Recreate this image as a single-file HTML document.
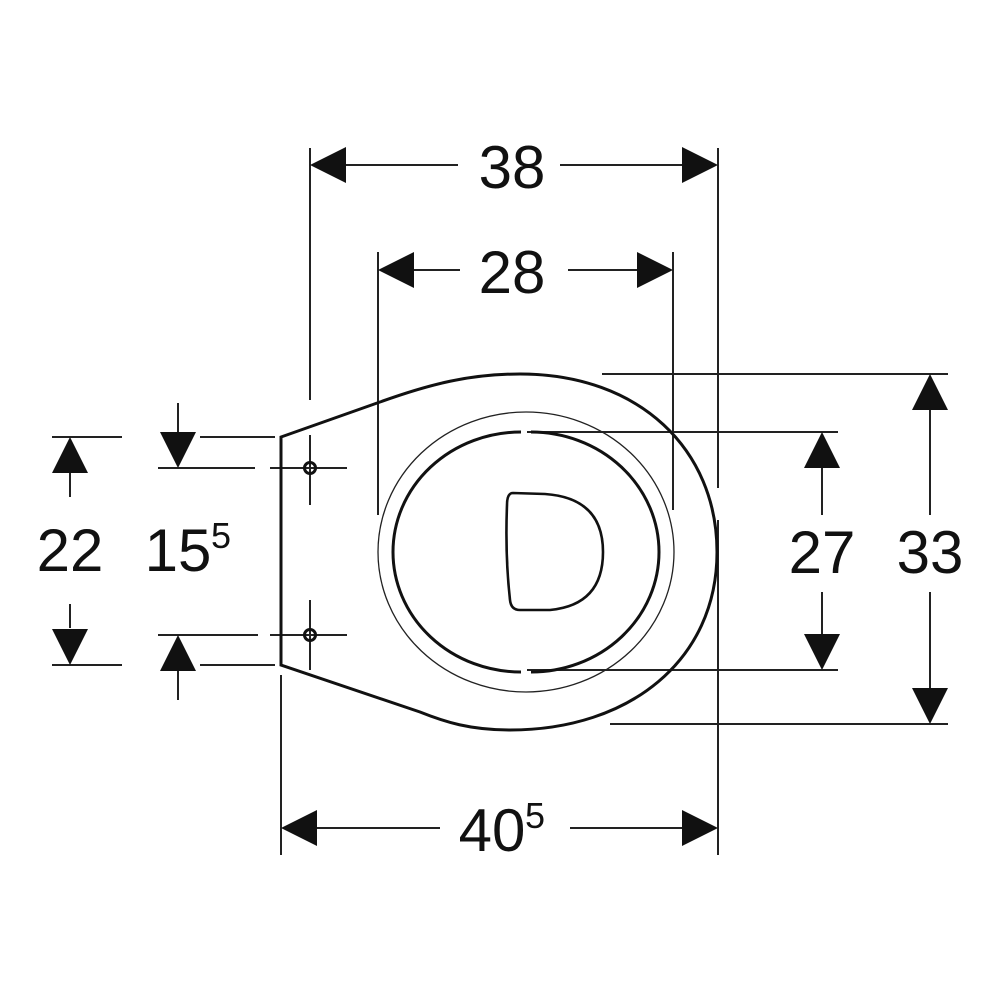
<!DOCTYPE html>
<html><head><style>html,body{margin:0;padding:0;background:#fff}svg{display:block}</style></head>
<body>
<svg width="1000" height="1000" viewBox="0 0 1000 1000" xmlns="http://www.w3.org/2000/svg">
<g stroke="#222" stroke-width="2" fill="none">
<line x1="310" y1="148" x2="310" y2="400"/>
<line x1="718" y1="148" x2="718" y2="488"/>
<line x1="718" y1="520" x2="718" y2="855"/>
<line x1="378" y1="252" x2="378" y2="515"/>
<line x1="673" y1="252" x2="673" y2="510"/>
<line x1="602" y1="374" x2="948" y2="374"/>
<line x1="610" y1="724" x2="948" y2="724"/>
<line x1="527" y1="432" x2="838" y2="432"/>
<line x1="527" y1="670" x2="838" y2="670"/>
<line x1="281" y1="675" x2="281" y2="855"/>
<line x1="52" y1="437" x2="122" y2="437"/><line x1="200" y1="437" x2="275" y2="437"/>
<line x1="52" y1="665" x2="122" y2="665"/><line x1="200" y1="665" x2="275" y2="665"/>
<line x1="158" y1="468" x2="255" y2="468"/><line x1="270" y1="468" x2="347" y2="468"/>
<line x1="158" y1="635" x2="258" y2="635"/><line x1="270" y1="635" x2="347" y2="635"/>
<line x1="310" y1="435" x2="310" y2="505"/><line x1="310" y1="600" x2="310" y2="670"/>
<line x1="346" y1="165" x2="458" y2="165"/><line x1="560" y1="165" x2="682" y2="165"/>
<line x1="414" y1="270" x2="460" y2="270"/><line x1="568" y1="270" x2="637" y2="270"/>
<line x1="317" y1="828" x2="440" y2="828"/><line x1="570" y1="828" x2="682" y2="828"/>
<line x1="930" y1="410" x2="930" y2="515"/><line x1="930" y1="592" x2="930" y2="688"/>
<line x1="822" y1="468" x2="822" y2="515"/><line x1="822" y1="592" x2="822" y2="634"/>
<line x1="70" y1="473" x2="70" y2="497"/><line x1="70" y1="604" x2="70" y2="628"/>
<line x1="178" y1="403" x2="178" y2="432"/><line x1="178" y1="671" x2="178" y2="700"/>
<ellipse cx="526" cy="552" rx="148" ry="140" stroke-width="1.3"/>
</g>
<g stroke="#111" stroke-width="3" fill="none">
<path d="M281 665 L281 437 L380 402 C430 384 470 374 520 374 C640 374 717 450 717 552 C717 660 630 730 510 730 C470 730 445 722 420 712 Z"/>
<path d="M521 432 A128 120 0 0 0 521 672" />
<path d="M531 432 A128 120 0 0 1 531 672" />
<path d="M513 493 Q507 493 507 505 Q505 555 510 600 Q511 610 520 610 L550 610 Q603 605 603 552 Q603 498 545 494 Z" stroke-width="2.6"/>
<circle cx="310" cy="468" r="5.5" stroke-width="3"/>
<circle cx="310" cy="635" r="5.5" stroke-width="3"/>
</g>
<g fill="#111">
<polygon points="310,165 346,147 346,183"/><polygon points="718,165 682,147 682,183"/>
<polygon points="378,270 414,252 414,288"/><polygon points="673,270 637,252 637,288"/>
<polygon points="281,828 317,810 317,846"/><polygon points="718,828 682,810 682,846"/>
<polygon points="930,374 912,410 948,410"/><polygon points="930,724 912,688 948,688"/>
<polygon points="822,432 804,468 840,468"/><polygon points="822,670 804,634 840,634"/>
<polygon points="70,437 52,473 88,473"/><polygon points="70,665 52,629 88,629"/>
<polygon points="178,468 160,432 196,432"/><polygon points="178,635 160,671 196,671"/>
</g>
<g font-family="Liberation Sans, sans-serif" font-size="60" fill="#111" text-anchor="middle">
<text x="512" y="188">38</text>
<text x="512" y="293">28</text>
<text x="930" y="573">33</text>
<text x="822" y="573">27</text>
<text x="70" y="571">22</text>
<text x="178" y="571">15</text>
<text x="211" y="548" font-size="36" text-anchor="start">5</text>
<text x="492" y="851">40</text>
<text x="525" y="828" font-size="36" text-anchor="start">5</text>
</g>
</svg>
</body></html>
